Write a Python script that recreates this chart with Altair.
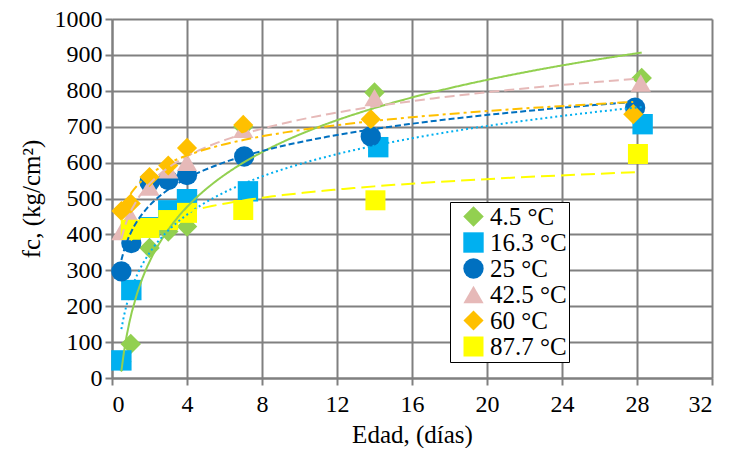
import altair as alt
import pandas as pd

series = ["4.5 °C", "16.3 °C", "25 °C", "42.5 °C", "60 °C", "87.7 °C"]
colors = ["#92D050", "#00B0F0", "#0070C0", "#E6B9B8", "#FFC000", "#FFFF00"]
shapes = ["diamond", "square", "circle", "triangle-up", "diamond", "square"]
sizes = [420, 400, 330, 400, 420, 400]
dashes = [[1, 0], [2, 3], [6, 3], [10, 5], [10, 4, 3, 4], [14, 6]]

x_45 = [0.5, 1, 2, 3, 4, 7, 14, 28.25]
y_45 = [45, 95, 362, 408, 422, 700, 795, 836]
x_163 = [0.5, 1.03, 2, 3, 4, 7.25, 14.2, 28.3]
y_163 = [49, 245, 420, 467, 498, 520, 643, 707]
x_25 = [0.5, 1.03, 2, 3, 4, 7.05, 13.8, 27.9]
y_25 = [297, 376, 546, 551, 565, 617, 673, 753]
x_425 = [0.5, 1, 2, 3, 4, 7, 14, 28.2]
y_425 = [408, 449, 532, 580, 601, 693, 781, 822]
x_60 = [0.5, 1, 2, 3, 4, 7, 13.8, 27.8]
y_60 = [465, 486, 560, 592, 641, 705, 721, 735]
x_877 = [1, 2, 3, 4, 7, 14.05, 28.05]
y_877 = [413, 418, 440, 460, 468, 495, 624]

xs = [x_45, x_163, x_25, x_425, x_60, x_877]
ys = [y_45, y_163, y_25, y_425, y_60, y_877]

rows = []
for i, (s, xv, yv) in enumerate(zip(series, xs, ys)):
    for a, b in zip(xv, yv):
        rows.append({"serie": s, "idx": i, "edad": a, "fc": b})
df = pd.DataFrame(rows)

FONT = "Liberation Serif"
color_scale = alt.Scale(domain=series, range=colors)

x_enc = alt.X("edad:Q", scale=alt.Scale(domain=[0, 32], nice=False),
              axis=alt.Axis(values=list(range(0, 33, 4)), title="Edad, (días)",
                            titleFontWeight="normal", titlePadding=6, labelPadding=7))
y_enc = alt.Y("fc:Q", scale=alt.Scale(domain=[0, 1000], nice=False),
              axis=alt.Axis(values=list(range(0, 1001, 100)), format="d",
                            title="fc, (kg/cm²)", labelPadding=3,
                            titleFontWeight="normal", titlePadding=10))

lines = alt.Chart(df).transform_regression(
    "edad", "fc", groupby=["serie"], method="log"
).mark_line(strokeWidth=2).encode(
    x=x_enc, y=y_enc,
    color=alt.Color("serie:N", scale=color_scale, legend=None),
    strokeDash=alt.StrokeDash("serie:N", scale=alt.Scale(domain=series, range=dashes), legend=None),
)

points = alt.Chart(df).mark_point(filled=True, opacity=1).encode(
    x=x_enc, y=y_enc,
    color=alt.Color("serie:N", scale=color_scale,
                    legend=alt.Legend(title=None, orient="none", legendX=338, legendY=183,
                                      fillColor="white", strokeColor="black",
                                      padding=2, rowPadding=0, symbolSize=320,
                                      symbolOffset=9,
                                      labelFont=FONT, labelFontSize=25, labelColor="black",
                                      symbolOpacity=1)),
    shape=alt.Shape("serie:N", scale=alt.Scale(domain=series, range=shapes), legend=None),
    size=alt.Size("serie:N", scale=alt.Scale(domain=series, range=sizes), legend=None),
    order=alt.Order("idx:Q"),
)

chart = alt.layer(points, lines).properties(
    width=600, height=359,
    autosize=alt.AutoSizeParams(type="none"),
    padding={"left": 104, "top": 11, "right": 10, "bottom": 70},
).configure_view(stroke=None).configure_axis(
    grid=True, gridColor="#808080", gridWidth=2,
    domainColor="#808080", domainWidth=2,
    tickColor="#808080", tickWidth=2, tickSize=7,
    labelFont=FONT, labelFontSize=24, labelColor="black",
    titleFont=FONT, titleFontSize=25, titleColor="black",
).configure_legend(symbolStrokeWidth=0)

chart.save("out.html", embed_options={"renderer": "svg", "actions": False})
